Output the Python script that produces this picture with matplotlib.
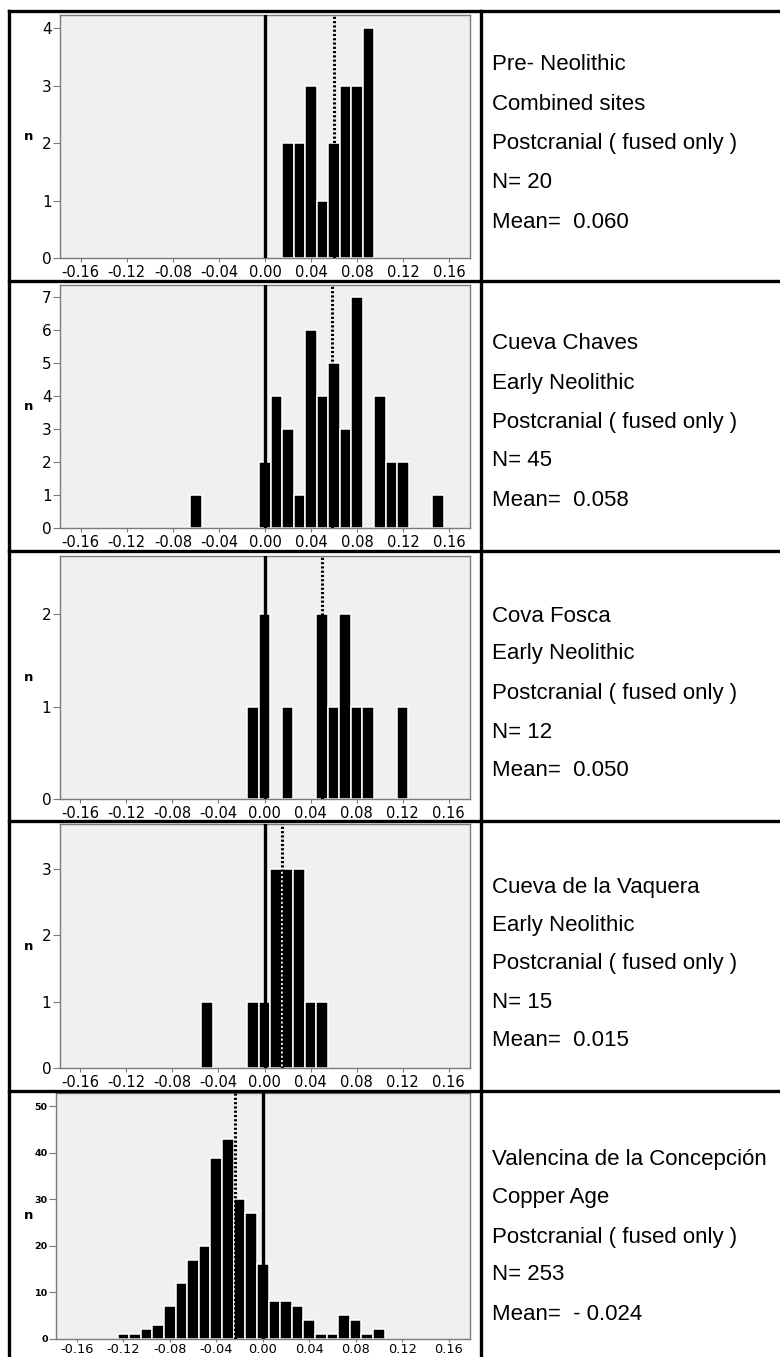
import matplotlib
matplotlib.use("Agg")
import matplotlib.pyplot as plt
from matplotlib.lines import Line2D

# ---------------- data ----------------
pre_bins = [0.02, 0.03, 0.04, 0.05, 0.06, 0.07, 0.08, 0.09]
pre_counts = [2, 2, 3, 1, 2, 3, 3, 4]

chaves_bins = [-0.06, 0.00, 0.01, 0.02, 0.03, 0.04, 0.05, 0.06, 0.07, 0.08, 0.10, 0.11, 0.12, 0.15]
chaves_counts = [1, 2, 4, 3, 1, 6, 4, 5, 3, 7, 4, 2, 2, 1]

fosca_bins = [-0.01, 0.00, 0.02, 0.05, 0.06, 0.07, 0.08, 0.09, 0.12]
fosca_counts = [1, 2, 1, 2, 1, 2, 1, 1, 1]

vaquera_bins = [-0.05, -0.01, 0.00, 0.01, 0.02, 0.03, 0.04, 0.05]
vaquera_counts = [1, 1, 1, 3, 3, 3, 1, 1]

valencina_bins = [-0.12, -0.11, -0.10, -0.09, -0.08, -0.07, -0.06, -0.05, -0.04, -0.03, -0.02, -0.01,
                  0.00, 0.01, 0.02, 0.03, 0.04, 0.05, 0.06, 0.07, 0.08, 0.09, 0.10]
valencina_counts = [1, 1, 2, 3, 7, 12, 17, 20, 39, 43, 30, 27, 16, 8, 8, 7, 4, 1, 1, 5, 4, 1, 2]

means = [0.060, 0.058, 0.050, 0.015, -0.024]
xticks = [-0.16, -0.12, -0.08, -0.04, 0.00, 0.04, 0.08, 0.12, 0.16]
xtick_labels = ["-0.16", "-0.12", "-0.08", "-0.04", "0.00", "0.04", "0.08", "0.12", "0.16"]
yticks_list = [[0, 1, 2, 3, 4], [0, 1, 2, 3, 4, 5, 6, 7], [0, 1, 2], [0, 1, 2, 3], [0, 10, 20, 30, 40, 50]]
ymax_list = [4.23, 7.35, 2.63, 3.68, 52.9]

texts = [
    ["Pre- Neolithic", "Combined sites", "Postcranial ( fused only )", "N= 20", "Mean=  0.060"],
    ["Cueva Chaves", "Early Neolithic", "Postcranial ( fused only )", "N= 45", "Mean=  0.058"],
    ["Cova Fosca", "Early Neolithic", "Postcranial ( fused only )", "N= 12", "Mean=  0.050"],
    ["Cueva de la Vaquera", "Early Neolithic", "Postcranial ( fused only )", "N= 15", "Mean=  0.015"],
    ["Valencina de la Concepción", "Copper Age", "Postcranial ( fused only )", "N= 253", "Mean=  - 0.024"],
]

bins_all = [pre_bins, chaves_bins, fosca_bins, vaquera_bins, valencina_bins]
counts_all = [pre_counts, chaves_counts, fosca_counts, vaquera_counts, valencina_counts]

# ---------------- layout (pixels) ----------------
W, H = 780, 1357
fig = plt.figure(figsize=(W / 100, H / 100), dpi=100)
fig.patch.set_facecolor("white")


def rect(l, t, r, b):
    return [l / W, 1 - b / H, (r - l) / W, (b - t) / H]


axes_px = [
    (60, 15, 470, 258),
    (60, 285, 470, 528),
    (59.5, 556, 469.5, 799),
    (59.5, 824, 469.5, 1068),
    (56, 1093, 469.5, 1338.5),
]
text_centers = [
    [65, 104, 143, 183, 222],
    [344, 384, 422, 461, 500],
    [616, 654, 693, 732, 771],
    [887, 925, 964, 1002, 1041],
    [1160, 1198, 1237, 1275, 1314],
]

gray = "#7a7a7a"
for i in range(5):
    ax = fig.add_axes(rect(*axes_px[i]))
    ax.set_facecolor("#f0f0f0")
    ax.bar(bins_all[i], counts_all[i], width=0.01, color="black",
           edgecolor="white", linewidth=1.1, zorder=2)
    ax.axvline(0.0, color="black", lw=2.4, zorder=3)
    ax.axvline(means[i], color="black", lw=2.2, linestyle=(0, (0.7, 0.7)), zorder=4)
    ax.set_xlim(-0.178, 0.178)
    ax.set_ylim(0, ymax_list[i])
    ax.set_xticks(xticks)
    ax.set_yticks(yticks_list[i])
    small = (i == 4)
    ax.set_xticklabels(xtick_labels, family="DejaVu Sans", fontsize=9.3 if small else 10.5)
    ax.set_yticklabels([str(v) for v in yticks_list[i]], family="DejaVu Sans",
                       fontsize=6.8 if small else 11, fontweight="bold" if small else "normal")
    for sp in ax.spines.values():
        sp.set_color(gray)
        sp.set_linewidth(1.0)
    if small:
        ax.tick_params(axis="x", length=2.5, width=0.8, color=gray, pad=0.5)
    else:
        ax.tick_params(axis="x", length=3, width=0.8, color=gray, pad=2)
    ax.tick_params(axis="y", length=5, width=0.8, color=gray, pad=1)
    ax.set_ylabel("n", fontsize=9.5, fontweight="bold", family="DejaVu Sans", rotation=0,
                  va="center", ha="center")
    ax.yaxis.set_label_coords((29 - axes_px[i][0]) / (axes_px[i][2] - axes_px[i][0]), 0.5)

    for j, line in enumerate(texts[i]):
        fig.text(492 / W, 1 - text_centers[i][j] / H, line, family="Liberation Sans",
                 fontsize=16, va="center", ha="left")

# ---------------- frame lines ----------------
lw_frame = 2.4


def hline(y, x0, x1):
    fig.add_artist(Line2D([x0 / W, x1 / W], [1 - y / H, 1 - y / H], color="black",
                          lw=lw_frame, transform=fig.transFigure, solid_capstyle="projecting"))


def vline(x, y0, y1):
    fig.add_artist(Line2D([x / W, x / W], [1 - y0 / H, 1 - y1 / H], color="black",
                          lw=lw_frame, transform=fig.transFigure, solid_capstyle="projecting"))


for y in [11, 281, 551, 821, 1091]:
    hline(y, 9, W)
vline(9, 11, H)
vline(481, 11, H)

fig.savefig("out.png", dpi=100, facecolor="white")
